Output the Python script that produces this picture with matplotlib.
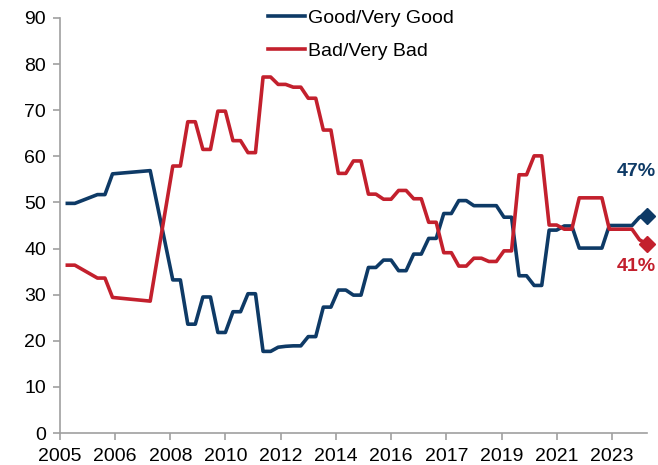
import matplotlib
matplotlib.use("Agg")
import matplotlib.pyplot as plt
import pandas as pd

plt.rcParams['font.family'] = ['Liberation Sans', 'DejaVu Sans']

# quarterly survey dates (month-end) and shares in %
good_dates = ["2005-03", "2005-06", "2006-03", "2006-06", "2006-09", "2007-12",
              "2008-09", "2008-12", "2009-03", "2009-06", "2009-09", "2009-12",
              "2010-03", "2010-06", "2010-09", "2010-12", "2011-03", "2011-06",
              "2011-09", "2011-12", "2012-03", "2012-06", "2012-09", "2012-12",
              "2013-03", "2013-06", "2013-09", "2013-12", "2014-03", "2014-06",
              "2014-09", "2014-12", "2015-03", "2015-06", "2015-09", "2015-12",
              "2016-03", "2016-06", "2016-09", "2016-12", "2017-03", "2017-06",
              "2017-09", "2017-12", "2018-03", "2018-06", "2018-09", "2018-12",
              "2019-03", "2019-06", "2019-09", "2019-12", "2020-03", "2020-06",
              "2020-09", "2020-12", "2021-03", "2021-06", "2021-09", "2021-12",
              "2022-03", "2022-06", "2022-09", "2022-12", "2023-03", "2023-06",
              "2023-09", "2023-12", "2024-03", "2024-06"]
good = [49.8, 49.8, 51.7, 51.7, 56.2, 56.9,
        33.2, 33.2, 23.6, 23.6, 29.5, 29.5,
        21.8, 21.8, 26.3, 26.3, 30.2, 30.2,
        17.7, 17.7, 18.6, 18.8, 18.9, 18.9,
        20.9, 20.9, 27.3, 27.3, 31.0, 31.0,
        29.9, 29.9, 35.9, 35.9, 37.5, 37.5,
        35.2, 35.2, 38.8, 38.8, 42.2, 42.2,
        47.6, 47.6, 50.4, 50.4, 49.3, 49.3,
        49.3, 49.3, 46.8, 46.8, 34.1, 34.1,
        32.0, 32.0, 44.0, 44.0, 44.9, 44.9,
        40.1, 40.1, 40.1, 40.1, 45.0, 45.0,
        45.0, 45.0, 46.8, 47.0]
bad = [36.4, 36.4, 33.6, 33.6, 29.4, 28.6,
       57.9, 57.9, 67.5, 67.5, 61.5, 61.5,
       69.8, 69.8, 63.4, 63.4, 60.8, 60.8,
       77.2, 77.2, 75.6, 75.6, 75.0, 75.0,
       72.6, 72.6, 65.7, 65.7, 56.3, 56.3,
       59.0, 59.0, 51.8, 51.8, 50.7, 50.7,
       52.6, 52.6, 50.8, 50.8, 45.7, 45.7,
       39.1, 39.1, 36.2, 36.2, 37.9, 37.9,
       37.2, 37.2, 39.5, 39.5, 56.0, 56.0,
       60.1, 60.1, 45.1, 45.1, 44.2, 44.2,
       51.0, 51.0, 51.0, 51.0, 44.2, 44.2,
       44.2, 44.2, 41.9, 41.0]

dates = pd.to_datetime(good_dates) + pd.offsets.MonthEnd(0)

blue = '#0E3A66'
red = '#C3202D'

fig = plt.figure(figsize=(6.58, 4.65), dpi=100)
ax = fig.add_axes([60/658, 1-433/465, 587/658, 415/465])

ax.plot(dates, good, color=blue, lw=2.6, label='Good/Very Good', solid_joinstyle='round')
ax.plot(dates, bad, color=red, lw=2.6, label='Bad/Very Bad', solid_joinstyle='round')
ax.plot(dates[-1], good[-1], marker='D', color=blue, ms=8, clip_on=False)
ax.plot(dates[-1], bad[-1], marker='D', color=red, ms=8, clip_on=False)

ax.annotate(f"{good[-1]:.0f}%", (dates[-1], good[-1]), xytext=(-7.7, 32.5),
            textcoords='offset points', ha='center', va='center',
            color=blue, fontsize=14, fontweight='bold', annotation_clip=False)
ax.annotate(f"{bad[-1]:.0f}%", (dates[-1], bad[-1]), xytext=(-7.7, -16),
            textcoords='offset points', ha='center', va='center',
            color=red, fontsize=14, fontweight='bold', annotation_clip=False)

ax.set_ylim(0, 90)
ax.set_yticks(range(0, 91, 10))
start = pd.Timestamp("2005-01-01")
ax.set_xlim(start, dates[-1])
ticks = [start + pd.DateOffset(months=22*i) for i in range(11)]
ax.set_xticks(ticks)
ax.set_xticklabels([t.strftime('%Y') for t in ticks])

for s in ['top', 'right']:
    ax.spines[s].set_visible(False)
for s in ['left', 'bottom']:
    ax.spines[s].set_color('#A0A0A0')
    ax.spines[s].set_linewidth(1.2)
ax.tick_params(axis='both', colors='#A0A0A0', labelcolor='black', labelsize=14,
               length=5, width=1.2)
ax.tick_params(axis='x', pad=6)
ax.tick_params(axis='y', pad=5)

fig.legend(loc='upper left', bbox_to_anchor=(268/658, 1-9/465), frameon=False,
           fontsize=14, handlelength=1.9, handletextpad=0.15, labelspacing=0.8,
           borderpad=0, borderaxespad=0)

fig.savefig('out.png', dpi=100)
